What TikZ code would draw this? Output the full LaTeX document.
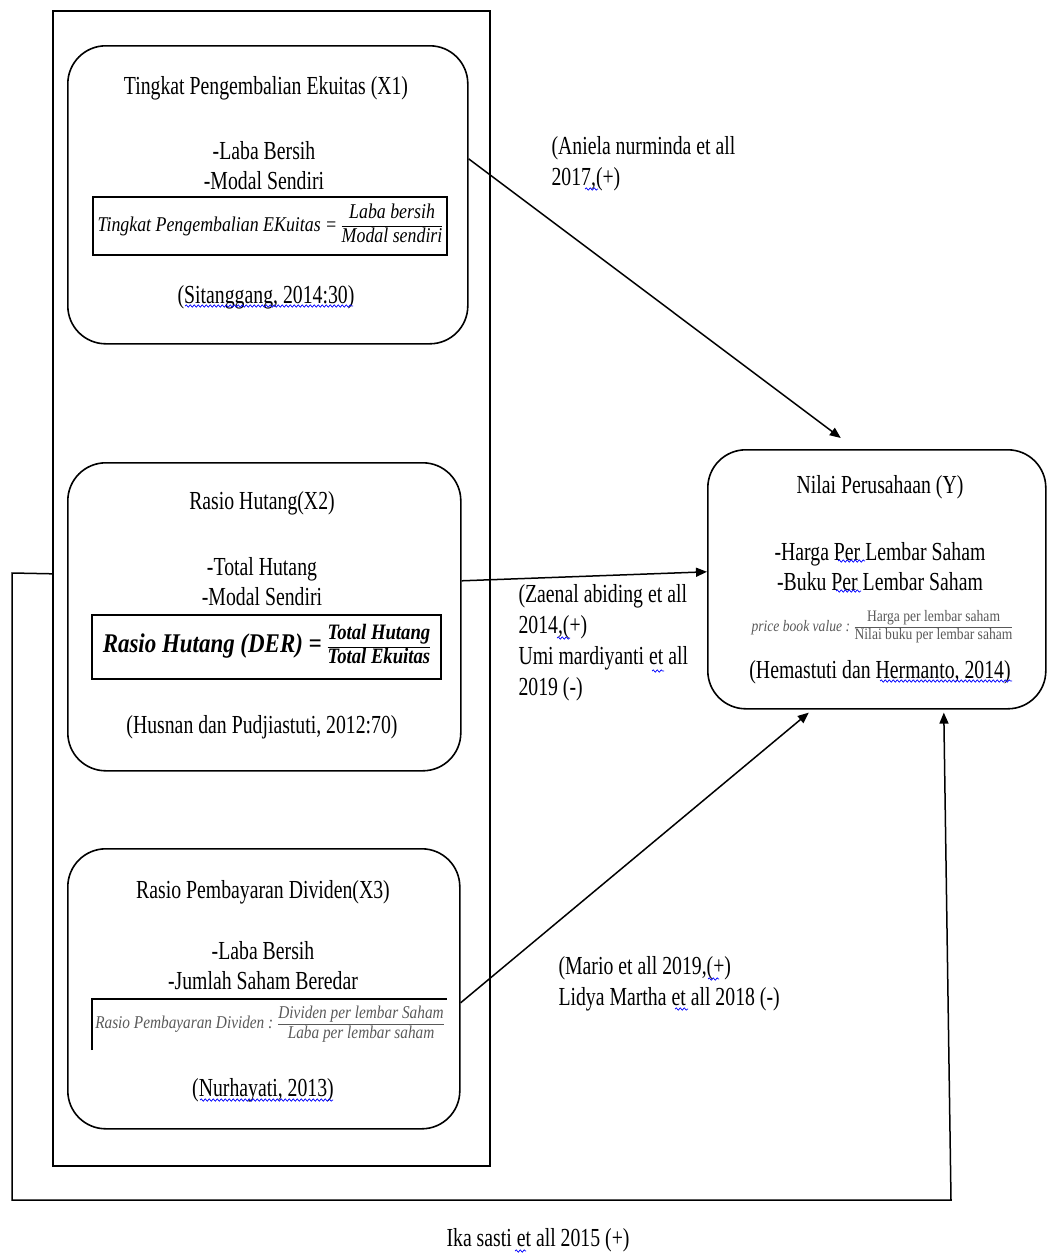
\documentclass[tikz,border=0pt]{standalone}
\usepackage{fontspec}
\setmainfont[FakeStretch=0.76]{Liberation Serif}
\newfontfamily\eqfont[FakeStretch=0.85]{Liberation Serif}
\usetikzlibrary{positioning, arrows.meta, decorations.pathmorphing}
\newcommand{\ratio}[2]{\begin{tabular}{@{}c@{}}#1\\\hline #2\end{tabular}}

\begin{document}
\begin{tikzpicture}[
        x=1pt, y=-1pt,
        % styles for boxes, texts and arrows
        panel/.style={draw, line width=1.6pt, anchor=north west, minimum width=437pt, minimum height=1155pt},
        varbox/.style={draw, line width=1.6pt, rounded corners=38pt, anchor=north west},
        label/.style={align=center, font=\fontsize{26}{30}\selectfont},
        note/.style={align=left, anchor=west, font=\fontsize{26}{31}\selectfont},
        eqbox/.style={draw, line width=1.4pt, inner sep=1pt},
        arrow/.style={-{Triangle[length=11pt,width=9pt]}, line width=1.5pt},
        squiggle/.style={blue, line width=0.7pt, decorate, decoration={snake, amplitude=1.2pt, segment length=4pt}}
    ]
    \useasboundingbox (0,0) rectangle (1047,1258);

    % outer frame and the four variables
    \node[panel] (panel) at (52,10) {};
    \node[varbox, minimum width=400pt, minimum height=298pt] (roe) at (67,45) {};
    \node[varbox, minimum width=393pt, minimum height=308pt] (der) at (67,462) {};
    \node[varbox, minimum width=392pt, minimum height=280pt] (dpr) at (67,848) {};
    \node[varbox, minimum width=338pt, minimum height=259pt] (nilai) at (707,449) {};

    % X1
    \node[label] (roeT) at (266,88) {Tingkat Pengembalian Ekuitas (X1)};
    \node[label] (roeI) at (264,166) {-Laba Bersih\\-Modal Sendiri};
    \node[eqbox, minimum width=354pt, minimum height=58pt] (roeEq) at (270,226)
        {\eqfont\itshape\fontsize{21}{23}\selectfont Tingkat Pengembalian EKuitas = \ratio{Laba bersih}{Modal sendiri}};
    \node[label] (roeS) at (266,297) {(Sitanggang, 2014:30)};

    % X2
    \node[label] (derT) at (262,503) {Rasio Hutang(X2)};
    \node[label] (derI) at (262,582) {-Total Hutang\\-Modal Sendiri};
    \node[eqbox, minimum width=349pt, minimum height=64pt] (derEq) at (266.5,647)
        {\eqfont\bfseries\itshape\fontsize{27}{27}\selectfont Rasio Hutang (DER) = {\fontsize{22}{23}\selectfont\ratio{Total Hutang}{Total Ekuitas}}};
    \node[label] (derS) at (262,727) {(Husnan dan Pudjiastuti, 2012:70)};

    % X3
    \node[label] (dprT) at (263,892) {Rasio Pembayaran Dividen(X3)};
    \node[label] (dprI) at (263,966) {-Laba Bersih\\-Jumlah Saham Beredar};
    \node[inner sep=1pt, minimum width=355pt, minimum height=51pt, text=black!65] (dprEq) at (269.5,1024.5)
        {\eqfont\itshape\fontsize{18}{20}\selectfont Rasio Pembayaran Dividen : \ratio{Dividen per lembar Saham}{Laba per lembar saham}};
    \draw[line width=1.4pt] (dprEq.south west) |- (dprEq.north east);
    \node[label] (dprS) at (263,1090) {(Nurhayati, 2013)};

    % Y
    \node[label] (nilaiT) at (880,487) {Nilai Perusahaan (Y)};
    \node[label] (nilaiI) at (880,567) {-Harga Per Lembar Saham\\-Buku Per Lembar Saham};
    \node[text=black!65] (nilaiEq) at (882,627)
        {\eqfont\fontsize{16}{17}\selectfont\textit{price book value :} \ratio{Harga per lembar saham}{Nilai buku per lembar saham}};
    \node[label] (nilaiS) at (880,672) {(Hemastuti dan Hermanto, 2014)};

    % relations
    \draw[arrow] ([yshift=36pt]roe.east) -- ([xshift=-36pt,yshift=11pt]nilai.north);
    \draw[arrow] ([yshift=36pt]der.east) -- ([yshift=7.5pt]nilai.west);
    \draw[arrow] ([yshift=-14pt]dpr.east) -- ([xshift=-68pt,yshift=-3pt]nilai.south);
    \draw[arrow] ([yshift=14.5pt]panel.west) -- (12,573) -- (12,1200) -- (951,1200)
        -- ([xshift=67pt,yshift=-3pt]nilai.south);

    % sources of the relations
    \node[note] (ref1) at (548,164) {(Aniela nurminda et all\\2017,(+)};
    \node[note] (ref2) at (515,643) {(Zaenal abiding et all\\2014,(+)\\Umi mardiyanti et all\\2019 (-)};
    \node[note] (ref3) at (555,984) {(Mario et all 2019,(+)\\Lidya Martha et all 2018 (-)};
    \node[label] (ref4) at (538,1240) {Ika sasti et all 2015 (+)};

    % spelling marks
    \foreach \xa/\xb/\ya in {185/353/306, 585/598/189, 200/333/1100, 838/865/561, 836/861/591,
        880/1012/681, 557/570/638, 652/664/671, 708/719/979, 675/688/1009, 515/526/1251}
        \draw[squiggle] (\xa,\ya) -- (\xb,\ya);

\end{tikzpicture}
\end{document}
